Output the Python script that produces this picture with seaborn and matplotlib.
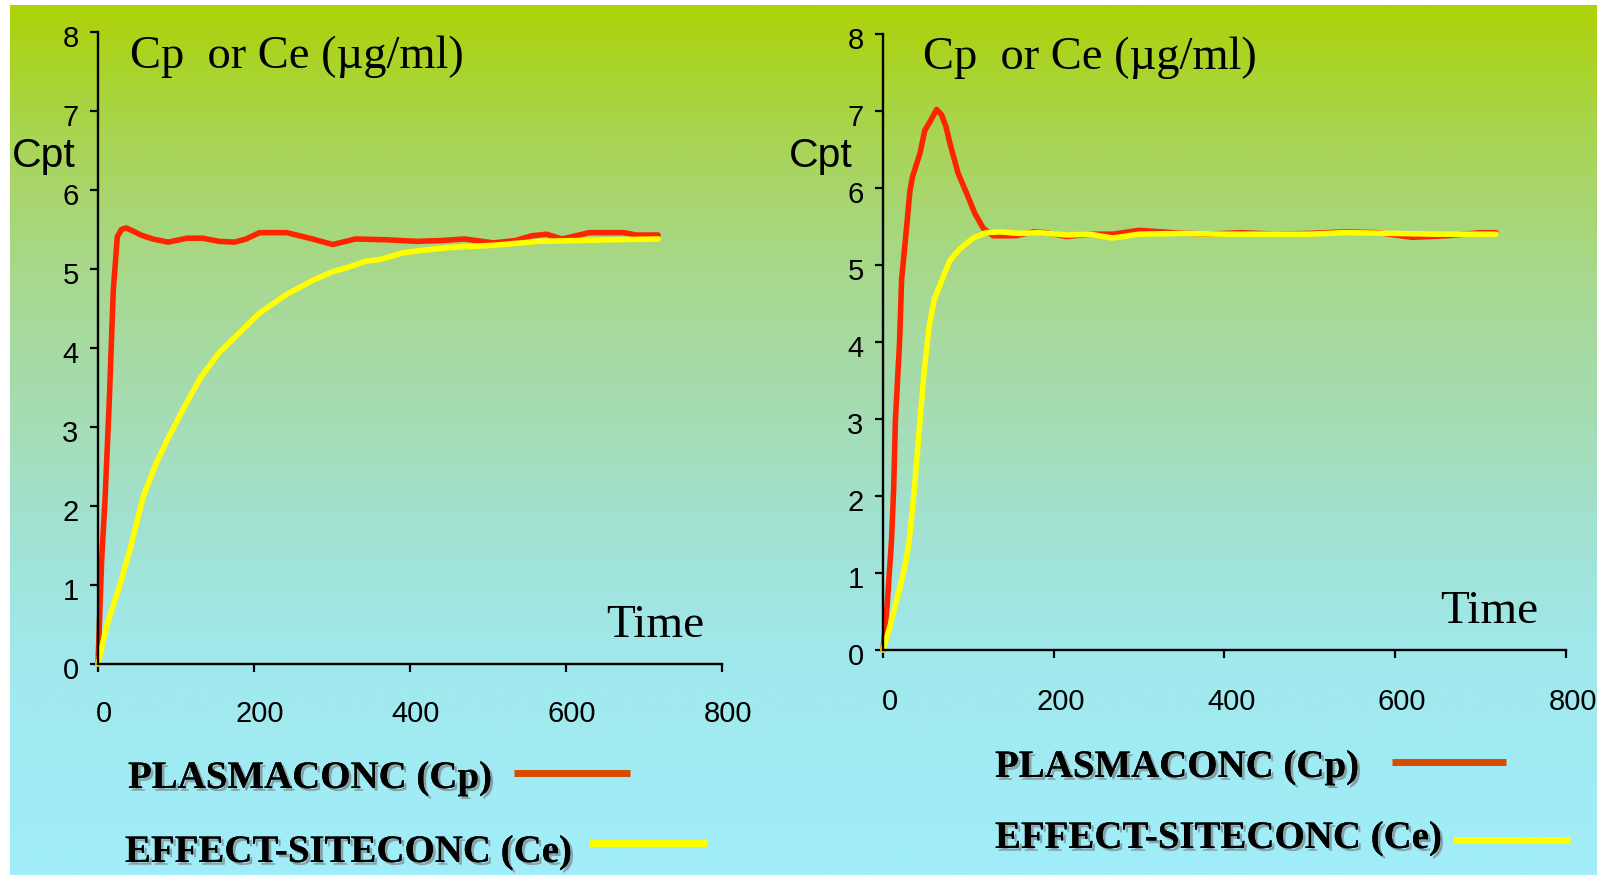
import numpy as np
import matplotlib
matplotlib.use("Agg")
import matplotlib.pyplot as plt
import matplotlib.patheffects as pe
from matplotlib.colors import LinearSegmentedColormap
from matplotlib.transforms import ScaledTranslation
import pandas as pd
import seaborn as sns

# ---- data: time (x) and concentration (µg/ml) ----
# Left panel: bolus-style infusion targeting plasma
left_cp_t = [0, 4.7, 9, 14.5, 19.6, 24.8, 30, 36, 45, 55, 70, 90, 114, 134, 155, 175,
             190, 207, 242, 271, 301, 330, 369, 409, 440, 470, 507, 535, 556, 575,
             595, 630, 674, 690, 718]
left_cp_c = [0, 1.32, 2.08, 3.34, 4.73, 5.41, 5.50, 5.52, 5.48, 5.43, 5.38, 5.34, 5.39,
             5.39, 5.35, 5.34, 5.38, 5.46, 5.46, 5.39, 5.31, 5.38, 5.37, 5.35, 5.36,
             5.38, 5.33, 5.36, 5.42, 5.44, 5.38, 5.46, 5.46, 5.43, 5.43]
left_ce_t = [0, 11, 28, 41, 58, 75, 88, 105, 131, 156, 178, 208, 242, 276, 302, 320,
             344, 362, 389, 410, 448, 507, 566, 615, 660, 718]
left_ce_c = [0, 0.48, 1.0, 1.45, 2.12, 2.55, 2.82, 3.15, 3.62, 3.95, 4.16, 4.45, 4.68,
             4.86, 4.97, 5.02, 5.10, 5.12, 5.20, 5.23, 5.27, 5.30, 5.35, 5.36, 5.37, 5.38]

# Right panel: effect-site targeting with plasma overshoot
right_cp_t = [0, 5, 10, 12.5, 14.6, 19.4, 21.8, 27.7, 31.6, 34.7, 43.3, 49, 55, 62.8,
              68.6, 73.7, 78.4, 88, 98, 107.6, 117.3, 129, 156, 176, 191, 215, 242,
              269, 300, 340, 380, 420, 460, 500, 540, 580, 620, 660, 700, 718]
right_cp_c = [0, 0.6, 1.43, 2.1, 3.0, 4.0, 4.81, 5.50, 5.97, 6.15, 6.45, 6.75, 6.86,
              7.02, 6.95, 6.80, 6.58, 6.19, 5.93, 5.67, 5.48, 5.38, 5.38, 5.43, 5.42,
              5.37, 5.40, 5.40, 5.45, 5.42, 5.40, 5.42, 5.40, 5.41, 5.43, 5.42, 5.36,
              5.38, 5.42, 5.42]
right_ce_t = [0, 8, 16, 23, 27, 30.8, 36, 42, 48, 54, 60, 70.6, 78.4, 90, 105.7, 121,
              137, 160, 183.6, 215, 242, 269, 300, 350, 400, 450, 500, 540, 600, 650, 718]
right_ce_c = [0, 0.30, 0.65, 0.95, 1.17, 1.43, 2.0, 2.8, 3.6, 4.2, 4.55, 4.85, 5.06, 5.21,
              5.35, 5.42, 5.43, 5.41, 5.42, 5.39, 5.40, 5.35, 5.40, 5.41, 5.40, 5.40,
              5.40, 5.42, 5.41, 5.40, 5.40]

x_ticks = [0, 200, 400, 600, 800]
y_ticks = [0, 1, 2, 3, 4, 5, 6, 7, 8]
title_text = "Cp  or Ce (µg/ml)"
ylabel_text = "Cpt"
xlabel_text = "Time"
legend_cp = "PLASMACONC (Cp)"
legend_ce = "EFFECT-SITECONC (Ce)"

CP_COLOR = "#ff2400"
CP_SWATCH = "#d94c00"
CE_COLOR = "#ffff00"

sns.set_style("ticks")
plt.rcParams["font.family"] = ["Liberation Sans", "DejaVu Sans"]
plt.rcParams["text.color"] = "black"
plt.rcParams["xtick.color"] = "black"
plt.rcParams["ytick.color"] = "black"
plt.rcParams["axes.labelcolor"] = "black"

W, H = 1608, 875
fig = plt.figure(figsize=(W / 100, H / 100), dpi=100, facecolor="white")


def fx(px):
    return px / W


def fy(py):
    return 1 - py / H


# ---- gradient backdrop ----
bg = fig.add_axes([0, 0, 1, 1], zorder=0)
stops = [(5, (173, 210, 8)), (60, (170, 212, 40)), (130, (168, 213, 80)),
         (200, (168, 214, 112)), (300, (167, 217, 150)), (420, (165, 221, 180)),
         (540, (161, 226, 212)), (650, (160, 232, 235)), (875, (160, 238, 250))]
span = stops[-1][0] - stops[0][0]
cmap = LinearSegmentedColormap.from_list(
    "bg", [((p - stops[0][0]) / span, tuple(v / 255 for v in c)) for p, c in stops])
grad = np.linspace(0, 1, 400).reshape(-1, 1)
bg.imshow(grad, cmap=cmap, aspect="auto", extent=[10, 1597, 875, 5], interpolation="bilinear")
bg.set_xlim(0, W)
bg.set_ylim(H, 0)
bg.axis("off")

serif = ["Liberation Serif", "DejaVu Serif"]


def make_panel(rect, cp_t, cp_c, ce_t, ce_c, xpad, xshift, yshift):
    ax = fig.add_axes(rect, zorder=2)
    ax.patch.set_alpha(0)
    cp = pd.DataFrame({"Time": cp_t, "Conc": cp_c})
    ce = pd.DataFrame({"Time": ce_t, "Conc": ce_c})
    sns.lineplot(data=cp, x="Time", y="Conc", ax=ax, color=CP_COLOR, linewidth=4.0,
                 solid_joinstyle="round", solid_capstyle="round", clip_on=False)
    sns.lineplot(data=ce, x="Time", y="Conc", ax=ax, color=CE_COLOR, linewidth=4.0,
                 solid_joinstyle="round", solid_capstyle="round", clip_on=False)
    ax.set_xlim(0, 800)
    ax.set_ylim(0, 8)
    ax.set_xticks(x_ticks)
    ax.set_yticks(y_ticks)
    ax.set_xlabel("")
    ax.set_ylabel("")
    for s in ("top", "right"):
        ax.spines[s].set_visible(False)
    for s in ("left", "bottom"):
        ax.spines[s].set_linewidth(1.7)
        ax.spines[s].set_color("black")
    ax.tick_params(axis="both", direction="out", length=6, width=1.6, colors="black",
                   labelsize=21)
    ax.tick_params(axis="x", pad=xpad)
    ax.tick_params(axis="y", pad=8)
    off_x = ScaledTranslation(xshift / 100, 0, fig.dpi_scale_trans)
    off_y = ScaledTranslation(0, -yshift / 100, fig.dpi_scale_trans)
    for lab in ax.get_xticklabels():
        lab.set_transform(lab.get_transform() + off_x)
    for lab in ax.get_yticklabels():
        lab.set_transform(lab.get_transform() + off_y)
    return ax


# left panel: x 98..722 px, y 664..32 px
make_panel([fx(98), fy(664), (722 - 98) / W, (664 - 32) / H],
           left_cp_t, left_cp_c, left_ce_t, left_ce_c, xpad=20, xshift=6, yshift=4)
# right panel: x 883..1566 px, y 650..34 px
make_panel([fx(883), fy(650), (1566 - 883) / W, (650 - 34) / H],
           right_cp_t, right_cp_c, right_ce_t, right_ce_c, xpad=21, xshift=7, yshift=4)

# ---- annotations ----
for x0, ybase in ((130, 68), (923, 69)):
    fig.text(fx(x0), fy(ybase), title_text, family=serif, fontsize=33.5,
             va="baseline", ha="left", zorder=5)
for x0, ybase in ((12, 167), (789, 167)):
    fig.text(fx(x0), fy(ybase), ylabel_text, fontsize=29.5, va="baseline", ha="left", zorder=5)
for x0, ybase in ((606, 637), (1440, 623)):
    fig.text(fx(x0), fy(ybase), xlabel_text, family=serif, fontsize=34,
             va="baseline", ha="left", zorder=5)

shadow = [pe.withSimplePatchShadow(offset=(2, -2), shadow_rgbFace=(0.45, 0.45, 0.45),
                                   alpha=0.6),
          pe.Normal()]
legend_rows = [
    # (text, text x, baseline y, swatch x0, swatch x1, swatch y, colour)
    (legend_cp, 128, 788, 514, 630, 773, CP_SWATCH),
    (legend_ce, 125, 862, 589, 707, 843, CE_COLOR),
    (legend_cp, 995, 777, 1392, 1506, 762, CP_SWATCH),
    (legend_ce, 995, 848, 1453, 1570, 840, CE_COLOR),
]
for txt, tx, ty, sx0, sx1, sy, col in legend_rows:
    fig.text(fx(tx), fy(ty), txt, family=serif, fontweight="bold", fontsize=28,
             va="baseline", ha="left", zorder=5, path_effects=shadow)
    bg.plot([sx0, sx1], [sy, sy], color=col, linewidth=5, solid_capstyle="butt", zorder=3)

fig.savefig("out.png", dpi=100, facecolor="white")
